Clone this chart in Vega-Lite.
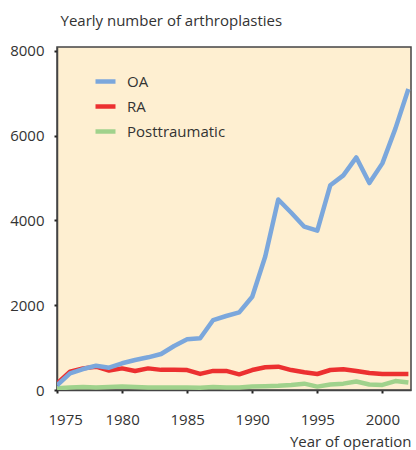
{
  "$schema": "https://vega.github.io/schema/vega-lite/v6.json",
  "autosize": "none",
  "width": 354,
  "height": 343,
  "padding": {"left": 57, "top": 47, "right": 5, "bottom": 60},
  "background": "white",
  "config": {
    "font": "Open Sans",
    "view": {"fill": "#FEEFD1", "stroke": "#444444", "strokeWidth": 1.5}
  },
  "datasets": {
    "d": [
      {"year": 1975, "series": "Posttraumatic", "n": 40},
      {"year": 1976, "series": "Posttraumatic", "n": 60},
      {"year": 1977, "series": "Posttraumatic", "n": 70},
      {"year": 1978, "series": "Posttraumatic", "n": 60},
      {"year": 1979, "series": "Posttraumatic", "n": 70},
      {"year": 1980, "series": "Posttraumatic", "n": 80},
      {"year": 1981, "series": "Posttraumatic", "n": 70},
      {"year": 1982, "series": "Posttraumatic", "n": 60},
      {"year": 1983, "series": "Posttraumatic", "n": 60},
      {"year": 1984, "series": "Posttraumatic", "n": 60},
      {"year": 1985, "series": "Posttraumatic", "n": 60},
      {"year": 1986, "series": "Posttraumatic", "n": 55},
      {"year": 1987, "series": "Posttraumatic", "n": 70},
      {"year": 1988, "series": "Posttraumatic", "n": 60},
      {"year": 1989, "series": "Posttraumatic", "n": 60},
      {"year": 1990, "series": "Posttraumatic", "n": 80},
      {"year": 1991, "series": "Posttraumatic", "n": 90},
      {"year": 1992, "series": "Posttraumatic", "n": 100},
      {"year": 1993, "series": "Posttraumatic", "n": 120},
      {"year": 1994, "series": "Posttraumatic", "n": 150},
      {"year": 1995, "series": "Posttraumatic", "n": 80},
      {"year": 1996, "series": "Posttraumatic", "n": 130},
      {"year": 1997, "series": "Posttraumatic", "n": 150},
      {"year": 1998, "series": "Posttraumatic", "n": 200},
      {"year": 1999, "series": "Posttraumatic", "n": 130},
      {"year": 2000, "series": "Posttraumatic", "n": 120},
      {"year": 2001, "series": "Posttraumatic", "n": 210},
      {"year": 2002, "series": "Posttraumatic", "n": 175},
      {"year": 1975, "series": "RA", "n": 150},
      {"year": 1976, "series": "RA", "n": 430},
      {"year": 1977, "series": "RA", "n": 510},
      {"year": 1978, "series": "RA", "n": 550},
      {"year": 1979, "series": "RA", "n": 460},
      {"year": 1980, "series": "RA", "n": 510},
      {"year": 1981, "series": "RA", "n": 450},
      {"year": 1982, "series": "RA", "n": 510},
      {"year": 1983, "series": "RA", "n": 475},
      {"year": 1984, "series": "RA", "n": 475},
      {"year": 1985, "series": "RA", "n": 470},
      {"year": 1986, "series": "RA", "n": 380},
      {"year": 1987, "series": "RA", "n": 450},
      {"year": 1988, "series": "RA", "n": 450},
      {"year": 1989, "series": "RA", "n": 370},
      {"year": 1990, "series": "RA", "n": 470},
      {"year": 1991, "series": "RA", "n": 535},
      {"year": 1992, "series": "RA", "n": 550},
      {"year": 1993, "series": "RA", "n": 470},
      {"year": 1994, "series": "RA", "n": 417},
      {"year": 1995, "series": "RA", "n": 377},
      {"year": 1996, "series": "RA", "n": 472},
      {"year": 1997, "series": "RA", "n": 488},
      {"year": 1998, "series": "RA", "n": 450},
      {"year": 1999, "series": "RA", "n": 400},
      {"year": 2000, "series": "RA", "n": 377},
      {"year": 2001, "series": "RA", "n": 377},
      {"year": 2002, "series": "RA", "n": 377},
      {"year": 1975, "series": "OA", "n": 110},
      {"year": 1976, "series": "OA", "n": 394},
      {"year": 1977, "series": "OA", "n": 495},
      {"year": 1978, "series": "OA", "n": 573},
      {"year": 1979, "series": "OA", "n": 526},
      {"year": 1980, "series": "OA", "n": 630},
      {"year": 1981, "series": "OA", "n": 708},
      {"year": 1982, "series": "OA", "n": 771},
      {"year": 1983, "series": "OA", "n": 849},
      {"year": 1984, "series": "OA", "n": 1038},
      {"year": 1985, "series": "OA", "n": 1195},
      {"year": 1986, "series": "OA", "n": 1219},
      {"year": 1987, "series": "OA", "n": 1650},
      {"year": 1988, "series": "OA", "n": 1745},
      {"year": 1989, "series": "OA", "n": 1832},
      {"year": 1990, "series": "OA", "n": 2200},
      {"year": 1991, "series": "OA", "n": 3150},
      {"year": 1992, "series": "OA", "n": 4493},
      {"year": 1993, "series": "OA", "n": 4180},
      {"year": 1994, "series": "OA", "n": 3852},
      {"year": 1995, "series": "OA", "n": 3758},
      {"year": 1996, "series": "OA", "n": 4830},
      {"year": 1997, "series": "OA", "n": 5063},
      {"year": 1998, "series": "OA", "n": 5485},
      {"year": 1999, "series": "OA", "n": 4880},
      {"year": 2000, "series": "OA", "n": 5345},
      {"year": 2001, "series": "OA", "n": 6165},
      {"year": 2002, "series": "OA", "n": 7100}
    ]
  },
  "data": {"name": "d"},
  "mark": {"type": "line", "strokeWidth": 4.5, "strokeJoin": "round", "clip": true},
  "encoding": {
    "x": {
      "field": "year",
      "type": "quantitative",
      "scale": {"domain": [1975, 2002.2], "nice": false, "zero": false},
      "axis": {
        "values": [1975, 1980, 1985, 1990, 1995, 2000],
        "format": "d",
        "grid": false,
        "domainColor": "#444444",
        "domainWidth": 1.5,
        "tickColor": "#222222",
        "tickSize": 3,
        "tickWidth": 2,
        "labelFontSize": 15,
        "labelColor": "#333333",
        "labelPadding": 19,
        "labelFlush": true,
        "labelFlushOffset": 9,
        "title": "Year of operation",
        "titleFontSize": 15,
        "titleFontWeight": "normal",
        "titleColor": "#333333",
        "titleAnchor": "end",
        "titleAlign": "right",
        "titleX": 354,
        "titleY": 56,
        "titleBaseline": "alphabetic"
      }
    },
    "y": {
      "field": "n",
      "type": "quantitative",
      "scale": {"domain": [0, 8090], "nice": false},
      "axis": {
        "values": [0, 2000, 4000, 6000, 8000],
        "format": "d",
        "grid": false,
        "domainColor": "#444444",
        "domainWidth": 1.5,
        "tickColor": "#222222",
        "tickSize": 3,
        "tickWidth": 2,
        "labelFontSize": 15,
        "labelColor": "#333333",
        "labelPadding": 10,
        "title": "Yearly number of arthroplasties",
        "titleFontSize": 15,
        "titleFontWeight": "normal",
        "titleColor": "#333333",
        "titleAngle": 0,
        "titleAlign": "left",
        "titleBaseline": "alphabetic",
        "titleX": 3,
        "titleY": -22
      }
    },
    "color": {
      "field": "series",
      "type": "nominal",
      "scale": {
        "domain": ["OA", "RA", "Posttraumatic"],
        "range": ["#7BA7DC", "#EC3030", "#A0D28C"]
      },
      "legend": {
        "title": null,
        "orient": "none",
        "legendX": 36,
        "legendY": 22,
        "symbolType": "stroke",
        "symbolStrokeWidth": 4.5,
        "symbolSize": 400,
        "labelFontSize": 15,
        "labelColor": "#333333",
        "labelOffset": 9,
        "rowPadding": 3
      }
    }
  }
}
